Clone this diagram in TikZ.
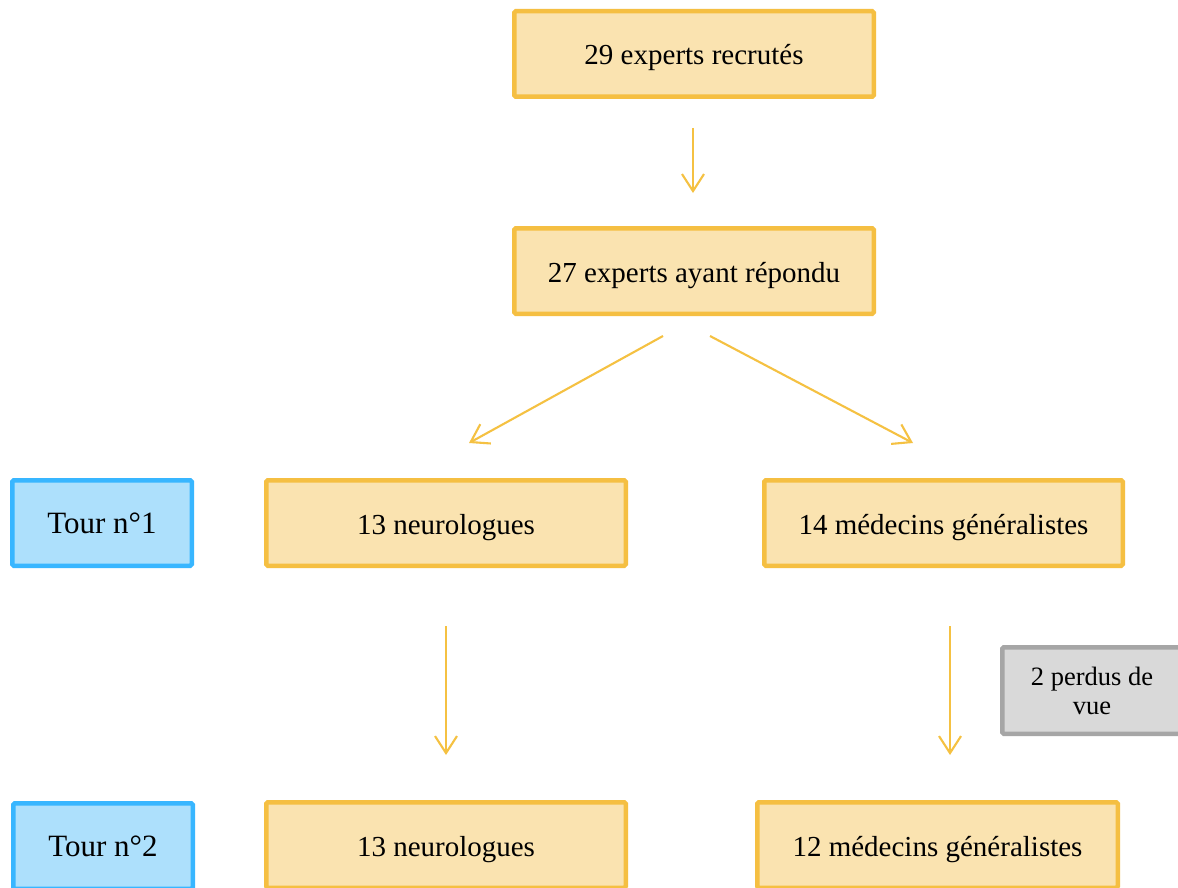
\documentclass[tikz,border=0pt]{standalone}
\usepackage{fontspec}
\setmainfont{Liberation Serif}
\usetikzlibrary{arrows.meta}
\definecolor{boxfill}{HTML}{FAE3B0}
\definecolor{boxline}{HTML}{F5BF42}
\definecolor{tourfill}{HTML}{ADE0FC}
\definecolor{tourline}{HTML}{38B6FF}
\definecolor{lostfill}{HTML}{D9D9D9}
\definecolor{lostline}{HTML}{A6A6A6}
\definecolor{arrowcol}{HTML}{F5C142}
\tikzset{
  stagebox/.style={draw=boxline, fill=boxfill, line width=4.5pt, rounded corners=1.5pt,
    minimum width=359.5pt, minimum height=85.5pt, inner sep=0pt,
    text height=24pt, text depth=2pt,
    font=\fontsize{29}{34}\selectfont},
  tourbox/.style={draw=tourline, fill=tourfill, line width=4.5pt, rounded corners=1.5pt,
    minimum width=179.5pt, minimum height=85.5pt, inner sep=0pt,
    font=\fontsize{31}{36}\selectfont},
  lostbox/.style={draw=lostline, fill=lostfill, line width=4.5pt, rounded corners=1.5pt,
    minimum width=179.5pt, minimum height=86.5pt, inner sep=0pt, align=center,
    font=\fontsize{26.5}{29}\selectfont},
  flow/.style={draw=arrowcol, line width=2.1pt,
    -{Straight Barb[length=17pt,width=22pt,line width=2.1pt]}}
}
\begin{document}
\begin{tikzpicture}[x=1pt,y=-1pt]
\useasboundingbox (0,0) rectangle (1178,888);
\fill[white] (0,0) rectangle (1178,888);
\begin{scope}
\clip (0,0) rectangle (1178,888);
% recruitment and responses
\node[stagebox] (recrut) at (694,54) {29 experts recrutés};
\node[stagebox] (repond) at (694,271) {27 experts ayant répondu};
% first round
\node[tourbox] (tour1) at (102,523) {Tour n°1};
\node[stagebox] (neuro1) at (446,523) {13 neurologues};
\node[stagebox, minimum width=358.5pt] (mg1) at (943.5,523) {14 médecins généralistes};
% drop-outs
\node[lostbox] (perdus) at (1092,690.5) {2 perdus de\\vue};
% second round
\node[tourbox] (tour2) at (103,846) {Tour n°2};
\node[stagebox] (neuro2) at (446,845) {13 neurologues};
\node[stagebox, minimum width=360.5pt] (mg2) at (937.5,845) {12 médecins généralistes};
\end{scope}
% arrow end points
\coordinate (splitL) at (663,336);
\coordinate (splitR) at (710,336);
\coordinate (endL) at (469,443);
\coordinate (endR) at (913,443);
\coordinate (n1s) at (446,626);
\coordinate (n2n) at (446,755);
\coordinate (m1s) at (950,626);
\coordinate (m2n) at (950,755);
% connectors
\draw[flow, shorten <=29pt, shorten >=33pt] ([xshift=-1pt]recrut.south) -- ([xshift=-1pt]repond.north);
\draw[flow] (splitL) -- (endL);
\draw[flow] (splitR) -- (endR);
\draw[flow] (n1s) -- (n2n);
\draw[flow] (m1s) -- (m2n);
\end{tikzpicture}
\end{document}
